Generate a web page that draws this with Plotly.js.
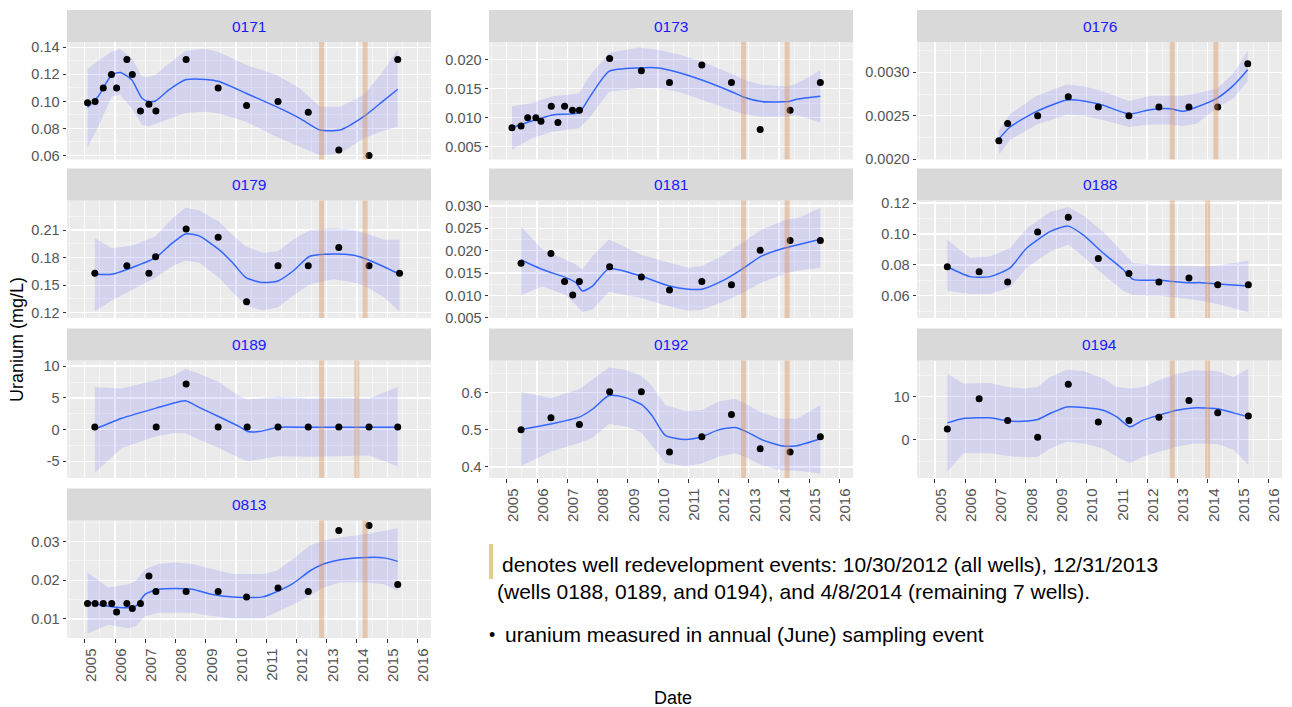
<!DOCTYPE html>
<html><head><meta charset="utf-8">
<script src="https://cdn.plot.ly/plotly-3.0.1.min.js"></script>
<style>html,body{margin:0;padding:0;background:#fff}#chart{width:1292px;height:707px}</style>
</head><body><div id="chart"></div>
<script>
// ---------- shared axis data ----------
const years = [2005,2006,2007,2008,2009,2010,2011,2012,2013,2014,2015,2016];
const yearLabels = ['2005','2006','2007','2008','2009','2010','2011','2012','2013','2014','2015','2016'];
const redevAll = 2012.83;    // 10/30/2012 (all wells)
const redevDec13 = 2013.997; // 12/31/2013 (wells 0188, 0189, 0194)
const redevApr14 = 2014.27;  // 4/8/2014 (remaining 7 wells)

// ---------- well 0171 ----------
const yr0171 = [2005.09,2005.34,2005.61,2005.88,2006.05,2006.39,2006.57,2006.84,2007.12,2007.35,2008.35,2009.41,2010.35,2011.39,2012.39,2013.40,2014.40,2015.35];
const u0171 = [0.099,0.100,0.110,0.120,0.110,0.131,0.120,0.093,0.098,0.093,0.131,0.110,0.097,0.100,0.092,0.064,0.060,0.131];
const sx0171 = [2005.09,2005.44,2005.89,2006.17,2006.55,2006.89,2007.11,2007.33,2007.78,2008.33,2009.0,2009.44,2010.33,2011.33,2012.11,2012.78,2013.44,2014.22,2014.78,2015.35];
const fit0171 = [0.0957,0.1036,0.1197,0.1214,0.116,0.1024,0.0999,0.1003,0.1085,0.116,0.1163,0.1148,0.1061,0.0961,0.0875,0.0788,0.0788,0.0887,0.0987,0.109];
const hi0171 = [0.124,0.130,0.137,0.1388,0.1321,0.1184,0.118,0.1196,0.128,0.1375,0.139,0.1365,0.1271,0.1197,0.1098,0.0961,0.0961,0.1048,0.1197,0.1383];
const lo0171 = [0.0664,0.081,0.1036,0.1049,0.095,0.0826,0.0814,0.083,0.087,0.0915,0.0924,0.091,0.085,0.0738,0.0664,0.0602,0.0614,0.0726,0.0775,0.0813];
const yt0171 = [0.06,0.08,0.10,0.12,0.14];
const yl0171 = ['0.06','0.08','0.10','0.12','0.14'];

// ---------- well 0173 ----------
const yr0173 = [2005.17,2005.47,2005.69,2005.96,2006.13,2006.47,2006.69,2006.91,2007.17,2007.40,2008.40,2009.45,2010.38,2011.45,2012.43,2013.38,2014.37,2015.37];
const u0173 = [0.0083,0.0086,0.0100,0.0100,0.0094,0.0120,0.0092,0.0120,0.0113,0.0113,0.0202,0.0181,0.0161,0.0191,0.0161,0.0080,0.0113,0.0161];
const sx0173 = [2005.17,2005.8,2006.51,2007.39,2007.72,2008.38,2009.37,2010.02,2010.68,2011.45,2012.43,2012.87,2013.42,2014.3,2014.6,2015.37];
const fit0173 = [0.0083,0.0094,0.0105,0.0109,0.0134,0.0180,0.0186,0.0186,0.0178,0.0165,0.0145,0.0135,0.0128,0.0128,0.0132,0.0137];
const hi0173 = [0.0120,0.0125,0.0137,0.0142,0.0171,0.0212,0.0221,0.0217,0.0209,0.0197,0.0176,0.0165,0.0157,0.0154,0.0159,0.0182];
const lo0173 = [0.0045,0.0064,0.0076,0.0082,0.0099,0.0145,0.0151,0.0151,0.0145,0.0131,0.0113,0.0106,0.0102,0.0102,0.0105,0.0092];
const yt0173 = [0.005,0.010,0.015,0.020];
const yl0173 = ['0.005','0.010','0.015','0.020'];

// ---------- well 0176 ----------
const yr0176 = [2007.11,2007.40,2008.39,2009.40,2010.39,2011.40,2012.39,2013.38,2014.33,2015.32];
const u0176 = [0.00221,0.00241,0.00250,0.00272,0.00260,0.00250,0.00260,0.00260,0.00260,0.00310];
const sx0176 = [2007.11,2007.48,2008.36,2009.35,2009.9,2010.55,2011.4,2012.1,2012.76,2013.19,2013.64,2014.3,2014.85,2015.32];
const fit0176 = [0.00223,0.00237,0.00255,0.00268,0.00267,0.00262,0.00252,0.00257,0.00258,0.00255,0.00260,0.00270,0.00285,0.00303];
const hi0176 = [0.00233,0.00252,0.00273,0.00286,0.00284,0.00278,0.00267,0.00273,0.00273,0.00273,0.00276,0.00281,0.00299,0.00325];
const lo0176 = [0.00205,0.00222,0.00240,0.00251,0.00250,0.00245,0.00237,0.00240,0.00240,0.00238,0.00241,0.00259,0.00270,0.00290];
const yt0176 = [0.0020,0.0025,0.0030];
const yl0176 = ['0.0020','0.0025','0.0030'];

// ---------- well 0179 ----------
const yr0179 = [2005.33,2006.39,2007.12,2007.34,2008.35,2009.41,2010.35,2011.39,2012.39,2013.40,2014.40,2015.41];
const u0179 = [0.163,0.171,0.163,0.181,0.211,0.202,0.132,0.171,0.171,0.191,0.171,0.163];
const sx0179 = [2005.33,2005.89,2006.55,2007.33,2007.89,2008.33,2008.78,2009.44,2009.89,2010.33,2010.89,2011.39,2011.89,2012.44,2013.22,2013.89,2014.35,2014.89,2015.41];
const fit0179 = [0.1618,0.1618,0.169,0.1796,0.1957,0.2057,0.2036,0.1886,0.1743,0.1582,0.1529,0.1546,0.1654,0.1814,0.184,0.1825,0.1779,0.170,0.1618];
const hi0179 = [0.2011,0.1904,0.1929,0.2029,0.2225,0.2343,0.2314,0.2189,0.2046,0.1921,0.185,0.1868,0.1993,0.21,0.2118,0.21,0.2057,0.1993,0.1993];
const lo0179 = [0.1214,0.1332,0.145,0.1582,0.1707,0.1768,0.1743,0.1582,0.1421,0.1279,0.1225,0.1261,0.1386,0.1511,0.1564,0.1529,0.1475,0.1368,0.1214];
const yt0179 = [0.12,0.15,0.18,0.21];
const yl0179 = ['0.12','0.15','0.18','0.21'];

// ---------- well 0181 ----------
const yr0181 = [2005.47,2006.46,2006.91,2007.18,2007.40,2008.40,2009.45,2010.38,2011.45,2012.43,2013.38,2014.37,2015.37];
const u0181 = [0.0172,0.0194,0.0131,0.0101,0.0131,0.0164,0.0141,0.0112,0.0131,0.0124,0.0201,0.0223,0.0223];
const sx0181 = [2005.47,2006.18,2006.95,2007.28,2007.5,2007.83,2008.38,2009.45,2010.38,2011.0,2011.45,2012.11,2012.76,2013.42,2014.19,2014.6,2015.37];
const fit0181 = [0.0180,0.0158,0.0140,0.0129,0.0110,0.0121,0.0160,0.0143,0.0121,0.0114,0.0114,0.0132,0.0158,0.0188,0.0206,0.0213,0.0226];
const hi0181 = [0.0254,0.0203,0.0180,0.0169,0.0158,0.0188,0.0225,0.0191,0.0173,0.0162,0.0166,0.0188,0.0217,0.0247,0.0269,0.0273,0.0295];
const lo0181 = [0.0101,0.0120,0.0101,0.0079,0.0063,0.0068,0.0108,0.0094,0.0075,0.0066,0.0068,0.0084,0.0104,0.0129,0.0148,0.0155,0.0162];
const yt0181 = [0.005,0.010,0.015,0.020,0.025,0.030];
const yl0181 = ['0.005','0.010','0.015','0.020','0.025','0.030'];

// ---------- well 0188 ----------
const yr0188 = [2005.41,2006.46,2007.40,2008.39,2009.40,2010.39,2011.40,2012.39,2013.38,2014.33,2015.34];
const u0188 = [0.0788,0.0756,0.0689,0.1013,0.1109,0.0841,0.0745,0.0689,0.0715,0.0672,0.0672];
const sx0188 = [2005.41,2006.16,2006.82,2007.48,2008.03,2008.8,2009.4,2009.89,2010.55,2011.21,2011.54,2012.39,2013.38,2013.8,2014.33,2015.34];
const fit0188 = [0.0788,0.0724,0.0724,0.0781,0.0909,0.1015,0.1051,0.0994,0.0877,0.0770,0.0706,0.0700,0.0685,0.0685,0.0677,0.0664];
const hi0188 = [0.0962,0.0845,0.0855,0.0909,0.1036,0.1143,0.1175,0.1121,0.1015,0.0877,0.0813,0.0796,0.0796,0.0790,0.0796,0.0826];
const lo0188 = [0.0632,0.0611,0.0611,0.0653,0.0781,0.0887,0.0930,0.0855,0.0738,0.0632,0.0604,0.0600,0.0579,0.0568,0.0547,0.0494];
const yt0188 = [0.06,0.08,0.10,0.12];
const yl0188 = ['0.06','0.08','0.10','0.12'];

// ---------- well 0189 ----------
const yr0189 = [2005.33,2007.36,2008.35,2009.41,2010.37,2011.39,2012.39,2013.40,2014.40,2015.35];
const u0189 = [0.4,0.4,7.2,0.4,0.4,0.4,0.4,0.4,0.4,0.4];
const sx0189 = [2005.33,2006.22,2007.33,2007.89,2008.33,2008.78,2009.44,2010.11,2010.39,2010.78,2011.39,2012.39,2013.4,2014.4,2015.35];
const fit0189 = [0.05,1.78,3.34,4.12,4.53,3.5,2.03,0.47,-0.31,-0.31,0.36,0.36,0.36,0.36,0.36];
const hi0189 = [6.72,6.47,7.77,8.39,9.59,8.81,7.5,5.27,4.75,4.91,5.16,4.91,5.0,4.91,6.72];
const lo0189 = [-6.8,-2.91,-1.09,-0.56,-0.56,-1.61,-2.91,-4.47,-5.0,-4.73,-4.22,-4.3,-4.22,-4.1,-5.78];
const yt0189 = [-5,0,5,10];
const yl0189 = ['-5','0','5','10'];

// ---------- well 0192 ----------
const yr0192 = [2005.47,2006.46,2007.40,2008.40,2009.45,2010.38,2011.45,2012.43,2013.38,2014.37,2015.37];
const u0192 = [0.500,0.532,0.514,0.602,0.602,0.440,0.481,0.541,0.449,0.440,0.481];
const sx0192 = [2005.47,2006.46,2007.39,2007.83,2008.38,2008.93,2009.45,2009.8,2010.24,2010.9,2011.45,2012.0,2012.54,2012.87,2013.42,2014.08,2014.6,2015.37];
const fit0192 = [0.5005,0.5152,0.5336,0.5549,0.5917,0.586,0.5677,0.5383,0.4849,0.4738,0.4811,0.4996,0.5058,0.4968,0.4738,0.4572,0.4572,0.4756];
const hi0192 = [0.6015,0.5849,0.6083,0.6359,0.6678,0.6605,0.6449,0.6173,0.5665,0.5499,0.5527,0.5757,0.5831,0.5711,0.5462,0.5296,0.5296,0.5665];
const lo0192 = [0.4017,0.4415,0.4646,0.4784,0.5152,0.5088,0.4922,0.4553,0.411,0.4017,0.4092,0.4276,0.4368,0.4276,0.4045,0.3907,0.3907,0.3815];
const yt0192 = [0.4,0.5,0.6];
const yl0192 = ['0.4','0.5','0.6'];

// ---------- well 0194 ----------
const yr0194 = [2005.41,2006.46,2007.40,2008.39,2009.40,2010.39,2011.40,2012.39,2013.38,2014.33,2015.34];
const u0194 = [2.5,9.5,4.5,0.6,12.9,4.1,4.5,5.2,9.1,6.3,5.5];
const sx0194 = [2005.41,2005.94,2006.82,2007.4,2007.92,2008.39,2008.8,2009.35,2009.9,2010.55,2011.0,2011.44,2011.87,2012.39,2012.98,2013.53,2014.31,2014.85,2015.34];
const fit0194 = [3.93,4.94,5.1,4.39,4.3,4.7,6.1,7.62,7.5,6.86,5.31,3.0,4.55,5.7,6.86,7.39,7.2,6.24,5.31];
const hi0194 = [15.33,13.03,13.17,12.24,11.87,12.24,14.55,16.26,15.94,14.18,12.24,11.87,12.24,13.79,15.33,16.1,15.94,14.55,16.49];
const lo0194 = [-7.39,-3.14,-3.14,-3.76,-4.06,-3.91,-1.99,-0.46,-0.83,-1.99,-3.93,-5.45,-3.93,-2.77,-1.62,-0.83,-0.99,-2.22,-5.84];
const yt0194 = [0,10];
const yl0194 = ['0','10'];

// ---------- well 0813 ----------
const yr0813 = [2005.09,2005.34,2005.61,2005.89,2006.05,2006.39,2006.57,2006.84,2007.12,2007.35,2008.35,2009.41,2010.35,2011.39,2012.39,2013.40,2014.40,2015.35];
const u0813 = [0.0140,0.0140,0.0140,0.0140,0.0118,0.0140,0.0127,0.0140,0.0211,0.0171,0.0171,0.0171,0.0157,0.0180,0.0171,0.0329,0.0342,0.0189];
const sx0813 = [2005.09,2005.78,2006.44,2006.68,2007.0,2007.44,2008.0,2008.55,2009.22,2009.89,2010.89,2011.33,2011.89,2012.44,2012.89,2013.44,2014.33,2014.89,2015.35];
const fit0813 = [0.0144,0.0133,0.0129,0.0133,0.0164,0.0177,0.0179,0.0177,0.0163,0.0157,0.0157,0.0170,0.0192,0.0224,0.0242,0.0253,0.0259,0.0258,0.0249];
const hi0813 = [0.0220,0.0181,0.0190,0.0198,0.0229,0.0242,0.0246,0.0242,0.0229,0.0216,0.0216,0.0224,0.0255,0.0290,0.0303,0.0311,0.0320,0.0329,0.0335];
const lo0813 = [0.0063,0.0085,0.0076,0.0081,0.0107,0.0116,0.0116,0.0116,0.0107,0.0101,0.0101,0.0116,0.0137,0.0159,0.0181,0.0194,0.0194,0.0190,0.0172];
const yt0813 = [0.01,0.02,0.03];
const yl0813 = ['0.01','0.02','0.03'];

// ---------- layout geometry (pixels) ----------
const W = 1292, H = 707;
const colX = [[67,431],[489,853],[917,1282]];
const rowTop = [10,168.5,328.5,488.5];
const STRIP = 32, PLOT = 117.5;
const XRANGE = [2004.41,2016.45];
const FONT = 'Liberation Sans, Arial, sans-serif';

const panels = [
  {id:'0171', col:0,row:0, yr:yr0171,u:u0171,sx:sx0171,fit:fit0171,hi:hi0171,lo:lo0171,yt:yt0171,yl:yl0171, yrange:[0.057,0.144], redev:[redevAll,redevApr14]},
  {id:'0173', col:1,row:0, yr:yr0173,u:u0173,sx:sx0173,fit:fit0173,hi:hi0173,lo:lo0173,yt:yt0173,yl:yl0173, yrange:[0.00282,0.02306], redev:[redevAll,redevApr14]},
  {id:'0176', col:2,row:0, yr:yr0176,u:u0176,sx:sx0176,fit:fit0176,hi:hi0176,lo:lo0176,yt:yt0176,yl:yl0176, yrange:[0.001995,0.00335], redev:[redevAll,redevApr14]},
  {id:'0179', col:0,row:1, yr:yr0179,u:u0179,sx:sx0179,fit:fit0179,hi:hi0179,lo:lo0179,yt:yt0179,yl:yl0179, yrange:[0.1143,0.2421], redev:[redevAll,redevApr14]},
  {id:'0181', col:1,row:1, yr:yr0181,u:u0181,sx:sx0181,fit:fit0181,hi:hi0181,lo:lo0181,yt:yt0181,yl:yl0181, yrange:[0.00495,0.03125], redev:[redevAll,redevApr14]},
  {id:'0188', col:2,row:1, yr:yr0188,u:u0188,sx:sx0188,fit:fit0188,hi:hi0188,lo:lo0188,yt:yt0188,yl:yl0188, yrange:[0.0456,0.1217], redev:[redevAll,redevDec13]},
  {id:'0189', col:0,row:2, yr:yr0189,u:u0189,sx:sx0189,fit:fit0189,hi:hi0189,lo:lo0189,yt:yt0189,yl:yl0189, yrange:[-7.63,10.89], redev:[redevAll,redevDec13]},
  {id:'0192', col:1,row:2, yr:yr0192,u:u0192,sx:sx0192,fit:fit0192,hi:hi0192,lo:lo0192,yt:yt0192,yl:yl0192, yrange:[0.3704,0.6857], redev:[redevAll,redevApr14], bottom:true},
  {id:'0194', col:2,row:2, yr:yr0194,u:u0194,sx:sx0194,fit:fit0194,hi:hi0194,lo:lo0194,yt:yt0194,yl:yl0194, yrange:[-8.85,18.38], redev:[redevAll,redevDec13], bottom:true},
  {id:'0813', col:0,row:3, yr:yr0813,u:u0813,sx:sx0813,fit:fit0813,hi:hi0813,lo:lo0813,yt:yt0813,yl:yl0813, yrange:[0.00505,0.03548], redev:[redevAll,redevApr14], bottom:true}
];

const traces = [];
const layout = {
  width: W, height: H,
  margin: {l:0,r:0,t:0,b:0},
  paper_bgcolor: '#ffffff',
  plot_bgcolor: '#ebebeb',
  showlegend: false,
  font: {family: FONT, color: '#4d4d4d'},
  shapes: [],
  annotations: []
};

panels.forEach((p, i) => {
  const k = i === 0 ? '' : String(i + 1);
  const xa = 'x' + k, ya = 'y' + k;
  const [px0, px1] = colX[p.col];
  const stripTop = rowTop[p.row];
  const plotTop = stripTop + STRIP;
  const plotBot = plotTop + PLOT;
  const step = p.yt[1] - p.yt[0];

  layout['xaxis' + k] = {
    domain: [px0 / W, px1 / W], range: XRANGE, anchor: ya,
    tickmode: 'array', tickvals: years, ticktext: yearLabels,
    showticklabels: !!p.bottom, ticks: p.bottom ? 'outside' : '',
    ticklen: 3.5, tickwidth: 1, tickcolor: '#333333', tickangle: -90,
    ticklabelshift: 6,
    tickfont: {family: FONT, size: 15, color: '#555555'},
    showgrid: true, gridcolor: '#ffffff', gridwidth: 1.3,
    minor: {tick0: 2004.5, dtick: 1, showgrid: true, gridcolor: '#f8f8f8', gridwidth: 0.7},
    zeroline: false, showline: false, fixedrange: true
  };
  layout['yaxis' + k] = {
    domain: [1 - plotBot / H, 1 - plotTop / H], range: p.yrange, anchor: xa,
    tickmode: 'array', tickvals: p.yt, ticktext: p.yl,
    ticks: 'outside', ticklen: 3.5, tickwidth: 1, tickcolor: '#333333',
    tickfont: {family: FONT, size: 14.5, color: '#555555'},
    showgrid: true, gridcolor: '#ffffff', gridwidth: 1.3,
    minor: {tick0: p.yt[0] - step / 2, dtick: step, showgrid: true, gridcolor: '#f8f8f8', gridwidth: 0.7},
    zeroline: false, showline: false, fixedrange: true
  };

  // ribbon
  traces.push({
    type: 'scatter', mode: 'lines', xaxis: xa, yaxis: ya,
    x: p.sx.concat(p.sx.slice().reverse()),
    y: p.hi.concat(p.lo.slice().reverse()),
    fill: 'toself', fillcolor: 'rgba(0,0,255,0.1)', line: {width: 0}, hoverinfo: 'skip'
  });
  // smooth line
  traces.push({
    type: 'scatter', mode: 'lines', xaxis: xa, yaxis: ya,
    x: p.sx, y: p.fit, line: {color: '#3366ff', width: 1.5, shape: 'spline', smoothing: 0.6}
  });
  // points
  traces.push({
    type: 'scatter', mode: 'markers', xaxis: xa, yaxis: ya,
    x: p.yr, y: p.u, marker: {color: '#000000', size: 7}
  });

  // redevelopment lines
  p.redev.forEach(v => {
    layout.shapes.push({
      type: 'line', xref: xa, yref: ya + ' domain', x0: v, x1: v, y0: 0, y1: 1,
      line: {color: 'rgba(215,140,80,0.38)', width: 5}, layer: 'above'
    });
  });

  // strip
  layout.shapes.push({
    type: 'rect', xref: 'paper', yref: 'paper',
    x0: px0 / W, x1: px1 / W, y0: 1 - plotTop / H, y1: 1 - stripTop / H,
    fillcolor: '#d9d9d9', line: {width: 0}, layer: 'below'
  });
  layout.annotations.push({
    xref: 'paper', yref: 'paper', x: (px0 + px1) / 2 / W, y: 1 - (stripTop + STRIP / 2) / H,
    text: p.id, showarrow: false, xanchor: 'center', yanchor: 'middle',
    font: {family: FONT, size: 15.5, color: '#1a1aff'}
  });
});

// axis titles
layout.annotations.push({
  xref: 'paper', yref: 'paper', x: 17 / W, y: 1 - 340 / H, textangle: -90,
  text: 'Uranium (mg/L)', showarrow: false, xanchor: 'center', yanchor: 'middle',
  font: {family: FONT, size: 18, color: '#000000'}
});
layout.annotations.push({
  xref: 'paper', yref: 'paper', x: 673 / W, y: 1 - 698 / H,
  text: 'Date', showarrow: false, xanchor: 'center', yanchor: 'middle',
  font: {family: FONT, size: 18, color: '#000000'}
});

// legend notes
layout.shapes.push({
  type: 'rect', xref: 'paper', yref: 'paper',
  x0: 489 / W, x1: 493 / W, y0: 1 - 579 / H, y1: 1 - 544 / H,
  fillcolor: '#e0cf86', line: {width: 0}
});
const noteFont = {family: FONT, size: 21, color: '#000000'};
layout.annotations.push({
  xref: 'paper', yref: 'paper', x: 500 / W, y: 1 - 564 / H, xanchor: 'left', yanchor: 'middle',
  text: 'denotes well redevelopment events: 10/30/2012 (all wells), 12/31/2013', showarrow: false, font: noteFont
});
layout.annotations.push({
  xref: 'paper', yref: 'paper', x: 495 / W, y: 1 - 591 / H, xanchor: 'left', yanchor: 'middle',
  text: '(wells 0188, 0189, and 0194), and 4/8/2014 (remaining 7 wells).', showarrow: false, font: noteFont
});
layout.annotations.push({
  xref: 'paper', yref: 'paper', x: 492 / W, y: 1 - 635 / H, xanchor: 'center', yanchor: 'middle',
  text: '\u2022', showarrow: false, font: {family: FONT, size: 18, color: '#000000'}
});
layout.annotations.push({
  xref: 'paper', yref: 'paper', x: 503 / W, y: 1 - 634 / H, xanchor: 'left', yanchor: 'middle',
  text: 'uranium measured in annual (June) sampling event', showarrow: false, font: noteFont
});

Plotly.newPlot('chart', traces, layout, {staticPlot: true, displayModeBar: false});
</script>
</body></html>
